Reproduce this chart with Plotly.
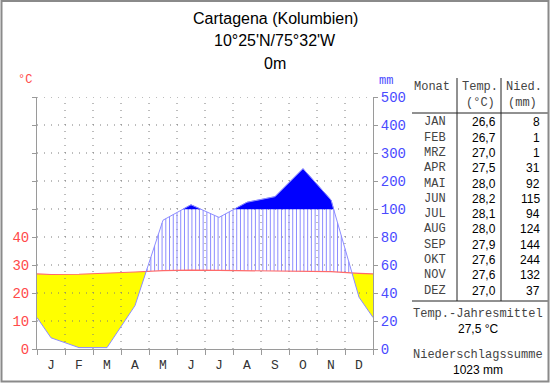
import numpy as np
import plotly.graph_objects as go

# ---------------- data ----------------
month_letters = ['J', 'F', 'M', 'A', 'M', 'J', 'J', 'A', 'S', 'O', 'N', 'D']
month_abbr = ['JAN', 'FEB', 'MRZ', 'APR', 'MAI', 'JUN', 'JUL', 'AUG', 'SEP', 'OKT', 'NOV', 'DEZ']
temps = [26.6, 26.7, 27.0, 27.5, 28.0, 28.2, 28.1, 28.0, 27.9, 27.6, 27.6, 27.0]
precip = [8, 1, 1, 31, 92, 115, 94, 124, 144, 244, 132, 37]
left_ticks = [0, 10, 20, 30, 40]
right_tick_labels = ['0', '20', '40', '60', '80', '100', '200', '300', '400', '500']
title_lines = ['Cartagena (Kolumbien)', "10°25'N/75°32'W", '0m']

W, H = 550, 384
RED = '#ff4a4a'
BLUE = '#4a4aff'
AX = '#9a9a9a'
MONO = 'Liberation Mono'
SANS = 'Liberation Sans'


def pscale(p):
    # Walter-Lieth: 20 mm = 10 °C up to 100 mm, above that 100 mm = 10 °C
    return p / 2.0 if p <= 100 else 50 + (p - 100) / 10.0


# curve nodes at month centres, closed at the edges with Dec/Jan mean
edge_t = (temps[-1] + temps[0]) / 2
edge_p = (precip[-1] + precip[0]) / 2
xc = [0.0] + [i + 0.5 for i in range(12)] + [12.0]
T = np.array([edge_t] + temps + [edge_t])
P = np.array([pscale(edge_p)] + [pscale(p) for p in precip] + [pscale(edge_p)])

# refine with crossing points
pts = []
for i in range(len(xc) - 1):
    x0, x1 = xc[i], xc[i + 1]
    pts.append(x0)
    for a0, a1 in [(P[i] - T[i], P[i + 1] - T[i + 1]), (P[i] - 50, P[i + 1] - 50)]:
        if a0 * a1 < 0:
            pts.append(x0 + (x1 - x0) * a0 / (a0 - a1))
pts.append(xc[-1])
xr = np.array(sorted(set(pts)))
Pr = np.interp(xr, xc, P)
Tr = np.interp(xr, xc, T)


def runs(mask):
    out, cur = [], []
    for i, m in enumerate(mask):
        if m:
            cur.append(i)
        else:
            if len(cur) > 1:
                out.append(cur)
            cur = []
    if len(cur) > 1:
        out.append(cur)
    return out


fig = go.Figure()

# arid (yellow)
for idx in runs(Pr <= Tr + 1e-9):
    xs = list(xr[idx])
    fig.add_trace(go.Scatter(x=xs + xs[::-1], y=list(Tr[idx]) + list(Pr[idx][::-1]),
                             fill='toself', fillcolor='#ffff00', mode='lines',
                             line=dict(width=0), hoverinfo='skip'))

# dotted grid (drawn above the yellow)
gx, gy = [], []
for v in range(10, 91, 10):
    gx += [0, 12, None]
    gy += [v, v, None]
for m in range(1, 12):
    gx += [m, m, None]
    gy += [0, 90, None]
fig.add_trace(go.Scatter(x=gx, y=gy, mode='lines',
                         line=dict(color='#7a7a7a', width=1, dash='1px,6px'),
                         hoverinfo='skip'))

# humid hatching
step = 1 / 7.5
hx, hy = [], []
for xk in np.arange(step / 2, 12, step):
    pk = np.interp(xk, xc, P)
    tk = np.interp(xk, xc, T)
    if pk > tk:
        hx += [xk, xk, None]
        hy += [tk, min(pk, 50), None]
fig.add_trace(go.Scatter(x=hx, y=hy, mode='lines', line=dict(color='#8c8cff', width=1),
                         hoverinfo='skip'))

# perhumid (solid blue)
for idx in runs(Pr >= 50 - 1e-9):
    xs = list(xr[idx])
    fig.add_trace(go.Scatter(x=xs + xs[::-1], y=list(Pr[idx]) + [50] * len(xs),
                             fill='toself', fillcolor='#0000ff', mode='lines',
                             line=dict(width=0.5, color='#0000ff'), hoverinfo='skip'))

# curves
fig.add_trace(go.Scatter(x=xc, y=T, mode='lines', line=dict(color='#ff6a6a', width=1.2),
                         hoverinfo='skip'))
fig.add_trace(go.Scatter(x=xc, y=P, mode='lines', line=dict(color='#8c8cff', width=1),
                         hoverinfo='skip'))
# y-axis on right for mm labels (invisible trace)
fig.add_trace(go.Scatter(x=[0], y=[0], yaxis='y2', mode='markers',
                         marker=dict(opacity=0), hoverinfo='skip'))

xdom = [37 / W, 373 / W]
ydom = [(H - 349) / H, (H - 97) / H]

fig.update_layout(
    width=W, height=H, margin=dict(l=0, r=0, t=0, b=0, autoexpand=False),
    paper_bgcolor='white', plot_bgcolor='white', showlegend=False,
    xaxis=dict(domain=xdom, range=[0, 12], showgrid=False, zeroline=False,
               showline=True, linecolor=AX, linewidth=1,
               tickvals=[i + 0.5 for i in range(12)], ticktext=month_letters,
               ticks='', tickfont=dict(family=MONO, size=13, color='#333333'),
               ticklabelstandoff=3,
               minor=dict(tickvals=list(range(13)), ticks='outside', ticklen=5,
                          tickcolor=AX, showgrid=False)),
    yaxis=dict(domain=ydom, range=[0, 90], showgrid=False, zeroline=False,
               showline=True, linecolor=AX, linewidth=1,
               tickvals=list(range(0, 91, 10)),
               ticktext=[str(v) for v in left_ticks] + [''] * 5,
               ticks='outside', ticklen=4, tickcolor=AX,
               tickfont=dict(family=MONO, size=14, color=RED)),
    yaxis2=dict(overlaying='y', side='right', anchor='x', range=[0, 90],
                showgrid=False, zeroline=False, showline=True, linecolor=AX, linewidth=1,
                tickvals=list(range(0, 91, 10)), ticktext=right_tick_labels,
                ticks='outside', ticklen=4, tickcolor=AX,
                tickfont=dict(family=MONO, size=14, color=BLUE)),
)


def X(px):
    return px / W


def Y(py):
    return 1 - py / H


ann = []
for i, t in enumerate(title_lines):
    ann.append(dict(x=X(275), y=Y(18 + 22.5 * i), text=t, showarrow=False,
                    xref='paper', yref='paper', xanchor='center', yanchor='middle',
                    font=dict(family=SANS, size=16, color='black')))
ann.append(dict(x=X(25), y=Y(80), text='°C', showarrow=False, xref='paper', yref='paper',
                xanchor='center', yanchor='middle', font=dict(family=MONO, size=12, color=RED)))
ann.append(dict(x=X(386), y=Y(81), text='mm', showarrow=False, xref='paper', yref='paper',
                xanchor='center', yanchor='middle', font=dict(family=MONO, size=12, color=BLUE)))

lab_font = dict(family=MONO, size=12, color='#444444')
num_font = dict(family=SANS, size=12, color='black')


def a(x, y, text, font, xanchor='left'):
    ann.append(dict(x=X(x), y=Y(y), text=text, showarrow=False, xref='paper', yref='paper',
                    xanchor=xanchor, yanchor='middle', font=font))


a(412, 87, 'Monat', lab_font)
a(460, 87, 'Temp.', lab_font)
a(480, 103, '(°C)', lab_font, 'center')
a(504, 87, 'Nied.', lab_font)
a(522, 103, '(mm)', lab_font, 'center')
for i in range(12):
    y = 122.3 + i * (290.7 - 122.3) / 11
    a(448, y, month_abbr[i], lab_font, 'right')
    a(498, y, f'{temps[i]:.1f}'.replace('.', ','), num_font, 'right')
    a(542, y, str(precip[i]), num_font, 'right')

mean_t = sum(temps) / len(temps)
total_p = sum(precip)
a(478, 314, 'Temp.-Jahresmittel', lab_font, 'center')
a(478, 329, f'{mean_t:.1f}'.replace('.', ',') + ' °C', num_font, 'center')
a(478, 355, 'Niederschlagssumme', lab_font, 'center')
a(478, 370, f'{total_p} mm', num_font, 'center')

fig.update_layout(annotations=ann)

shapes = []


def line(x0, y0, x1, y1, color='#222222', width=1):
    shapes.append(dict(type='line', xref='paper', yref='paper', x0=X(x0), y0=Y(y0),
                       x1=X(x1), y1=Y(y1), line=dict(color=color, width=width)))


line(412, 113, 548, 113)
line(412, 301, 548, 301)
line(457, 78, 457, 301)
line(501, 78, 501, 301)
shapes.append(dict(type='rect', xref='paper', yref='paper', x0=X(1.5), y0=Y(381.5),
                   x1=X(548.5), y1=Y(1), line=dict(color='#8a8a8a', width=2)))
fig.update_layout(shapes=shapes)

fig.write_html('out.html', config={'displayModeBar': False},
               post_script="document.body.style.margin='0';")
